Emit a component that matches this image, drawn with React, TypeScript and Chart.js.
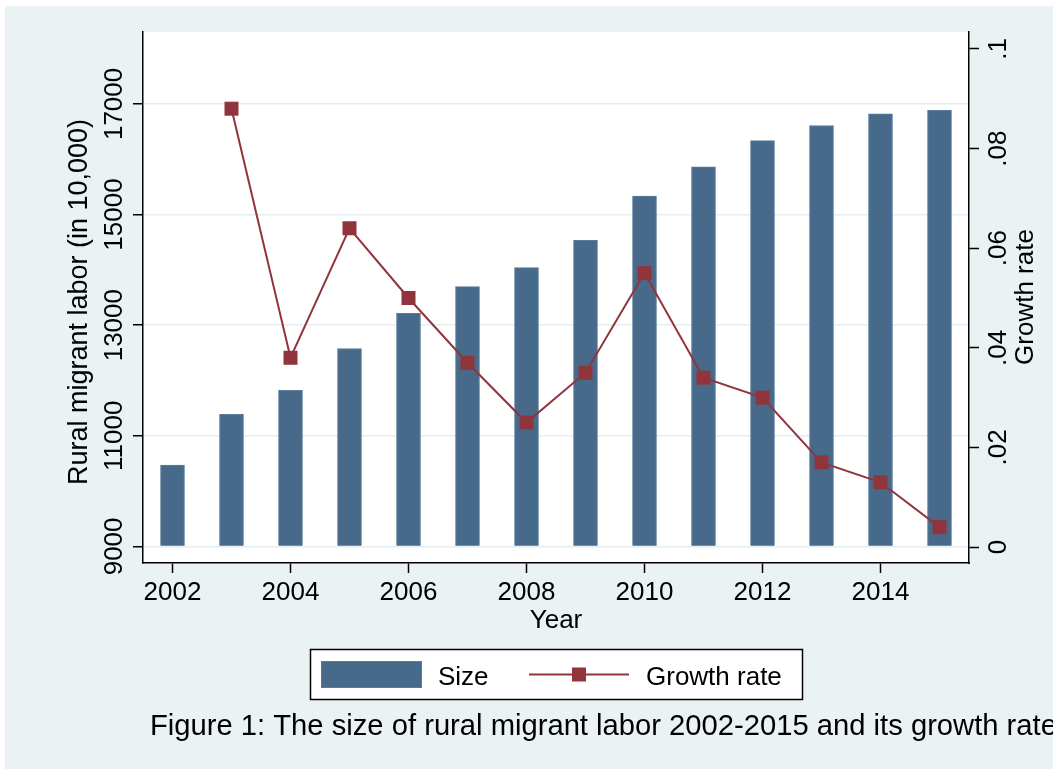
import React, { useEffect, useRef } from "react";
import { Chart, registerables } from "chart.js";

Chart.register(...registerables);

const years = [2002, 2003, 2004, 2005, 2006, 2007, 2008, 2009, 2010, 2011, 2012, 2013, 2014, 2015];
const sizeValues = [10470, 11390, 11823, 12578, 13212, 13697, 14041, 14533, 15335, 15863, 16336, 16610, 16821, 16884];
const growthYears = [2003, 2004, 2005, 2006, 2007, 2008, 2009, 2010, 2011, 2012, 2013, 2014, 2015];
const growthValues = [0.088, 0.038, 0.064, 0.050, 0.037, 0.025, 0.035, 0.055, 0.034, 0.030, 0.017, 0.013, 0.004];
const xTicks = [2002, 2004, 2006, 2008, 2010, 2012, 2014];
const leftTicks = [9000, 11000, 13000, 15000, 17000];
const leftTickLabels = ["9000", "11000", "13000", "15000", "17000"];
const rightTicks = [0, 0.02, 0.04, 0.06, 0.08, 0.1];
const rightTickLabels = ["0", ".02", ".04", ".06", ".08", ".1"];

const W = 1053;
const H = 771;
const BG = "#eaf2f3";
const BAR = "#476a8b";
const BAR_EDGE = "#5a7b9a";
const LINE = "#90353b";
const FONT = '"Liberation Sans", Arial, Helvetica, sans-serif';
const PLOT_LEFT = 143;
const PLOT_RIGHT = 969;
const PLOT_TOP = 32;
const PLOT_BOTTOM = 563;

const decorPlugin = {
  id: "decor",
  beforeDraw(chart: any) {
    const ctx = chart.ctx;
    const a = chart.chartArea;
    ctx.save();
    ctx.fillStyle = "#ffffff";
    ctx.fillRect(0, 0, W, H);
    ctx.fillStyle = BG;
    ctx.fillRect(5, 6, W - 5, H - 8);
    ctx.fillStyle = "#ffffff";
    ctx.fillRect(a.left, a.top, a.right - a.left, a.bottom - a.top);
    ctx.restore();
  },
  afterDraw(chart: any) {
    const ctx = chart.ctx;
    const xs = chart.scales.x;
    const ys = chart.scales.y;
    const y1 = chart.scales.y1;
    ctx.save();
    ctx.fillStyle = "#000";
    ctx.font = `26px ${FONT}`;
    ctx.textBaseline = "alphabetic";
    ctx.textAlign = "center";
    xTicks.forEach((v) => {
      ctx.fillText(String(v), xs.getPixelForValue(v), 600);
    });
    leftTicks.forEach((v, i) => {
      ctx.save();
      ctx.translate(122, ys.getPixelForValue(v));
      ctx.rotate(-Math.PI / 2);
      ctx.fillText(leftTickLabels[i], 0, 0);
      ctx.restore();
    });
    rightTicks.forEach((v, i) => {
      ctx.save();
      ctx.translate(1006, y1.getPixelForValue(v));
      ctx.rotate(-Math.PI / 2);
      ctx.fillText(rightTickLabels[i], 0, 0);
      ctx.restore();
    });
    // axis titles
    ctx.fillText("Year", (chart.chartArea.left + chart.chartArea.right) / 2, 628);
    ctx.save();
    ctx.font = `27px ${FONT}`;
    ctx.translate(87, 302);
    ctx.rotate(-Math.PI / 2);
    ctx.fillText("Rural migrant labor (in 10,000)", 0, 0);
    ctx.restore();
    ctx.save();
    ctx.translate(1033, 297);
    ctx.rotate(-Math.PI / 2);
    ctx.fillText("Growth rate", 0, 0);
    ctx.restore();

    // legend
    ctx.fillStyle = "#ffffff";
    ctx.fillRect(310.5, 649.5, 492, 50);
    ctx.strokeStyle = "#000";
    ctx.lineWidth = 1.5;
    ctx.strokeRect(310.5, 649.5, 492, 50);
    ctx.fillStyle = BAR_EDGE;
    ctx.fillRect(321, 661, 101, 27);
    ctx.fillStyle = BAR;
    ctx.fillRect(322, 662, 99, 25);
    ctx.fillStyle = "#000";
    ctx.textAlign = "left";
    ctx.fillText("Size", 438, 685);
    ctx.strokeStyle = LINE;
    ctx.lineWidth = 2;
    ctx.beginPath();
    ctx.moveTo(529, 674.5);
    ctx.lineTo(629, 674.5);
    ctx.stroke();
    ctx.fillStyle = LINE;
    ctx.fillRect(572, 667.5, 14, 14);
    ctx.fillStyle = "#000";
    ctx.fillText("Growth rate", 646, 685);

    // caption
    ctx.font = `29.2px ${FONT}`;
    ctx.fillText("Figure 1: The size of rural migrant labor 2002-2015 and its growth rate", 150, 735);
    ctx.restore();
  },
};

export default function App() {
  const ref = useRef<HTMLCanvasElement>(null);
  useEffect(() => {
    if (!ref.current) return;
    const chart = new Chart(ref.current, {
      type: "bar",
      data: {
        datasets: [
          {
            type: "line",
            label: "Growth rate",
            data: growthYears.map((x, i) => ({ x, y: growthValues[i] })),
            xAxisID: "x",
            yAxisID: "y1",
            borderColor: LINE,
            backgroundColor: LINE,
            borderWidth: 2,
            pointStyle: "rect",
            pointRadius: 9.9,
            pointBorderWidth: 0,
            pointBackgroundColor: LINE,
            tension: 0,
            order: 0,
          } as any,
          {
            type: "bar",
            label: "Size",
            data: years.map((x, i) => ({ x, y: sizeValues[i] })),
            xAxisID: "x",
            yAxisID: "y",
            base: 9000,
            barThickness: 24,
            backgroundColor: BAR,
            borderColor: BAR_EDGE,
            borderWidth: 1,
            order: 1,
          } as any,
        ],
      },
      options: {
        animation: false,
        responsive: false,
        devicePixelRatio: 1,
        layout: { padding: { top: PLOT_TOP, left: 0, right: 0, bottom: 0 } },
        plugins: { legend: { display: false }, tooltip: { enabled: false } },
        scales: {
          x: {
            type: "linear",
            min: 2001.5,
            max: 2015.5,
            offset: false,
            afterBuildTicks: (s: any) => {
              s.ticks = xTicks.map((v) => ({ value: v }));
            },
            afterFit: (s: any) => {
              s.height = H - PLOT_BOTTOM;
            },
            ticks: { display: false },
            grid: {
              offset: false,
              drawOnChartArea: false,
              drawTicks: true,
              tickLength: 10,
              tickColor: "#000",
              tickWidth: 1.5,
            },
            border: { display: true, color: "#000", width: 1.5 },
          },
          y: {
            type: "linear",
            position: "left",
            min: 8700,
            max: 18300,
            afterBuildTicks: (s: any) => {
              s.ticks = leftTicks.map((v) => ({ value: v }));
            },
            afterFit: (s: any) => {
              s.width = PLOT_LEFT;
            },
            ticks: { display: false },
            grid: {
              color: "#e4eef0",
              lineWidth: 1.5,
              drawTicks: true,
              tickLength: 10,
              tickColor: "#000",
              tickWidth: 1.5,
            },
            border: { display: true, color: "#000", width: 1.5 },
          },
          y1: {
            type: "linear",
            position: "right",
            min: -0.0032,
            max: 0.1034,
            afterBuildTicks: (s: any) => {
              s.ticks = rightTicks.map((v) => ({ value: v }));
            },
            afterFit: (s: any) => {
              s.width = W - PLOT_RIGHT;
            },
            ticks: { display: false },
            grid: {
              drawOnChartArea: false,
              drawTicks: true,
              tickLength: 10,
              tickColor: "#000",
              tickWidth: 1.5,
            },
            border: { display: true, color: "#000", width: 1.5 },
          },
        },
      } as any,
      plugins: [decorPlugin],
    });
    return () => chart.destroy();
  }, []);
  return (
    <div style={{ position: "fixed", left: 0, top: 0, width: W, height: H }}>
      <canvas ref={ref} width={W} height={H} style={{ width: W, height: H, display: "block" }} />
    </div>
  );
}
